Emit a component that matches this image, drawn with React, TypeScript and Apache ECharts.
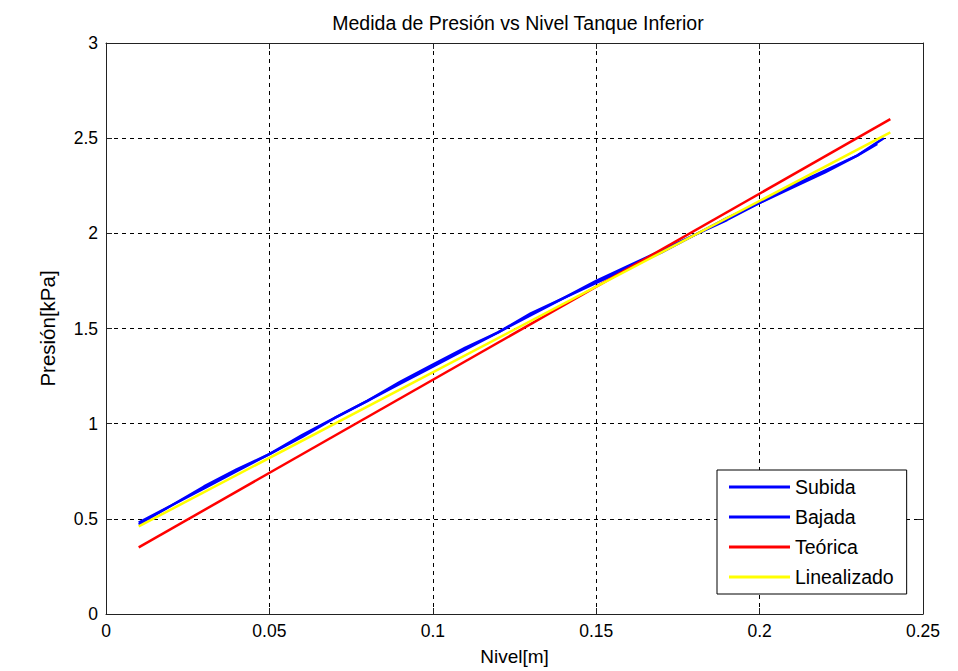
import React, { useEffect, useRef } from "react";
import * as echarts from "echarts";

const nivelSubida = [0.01, 0.02, 0.03, 0.04, 0.05, 0.06, 0.07, 0.08, 0.09, 0.1, 0.11, 0.12, 0.13, 0.14, 0.15, 0.16, 0.17, 0.18, 0.19, 0.2, 0.21, 0.22, 0.23, 0.238];
const presionSubida = [0.47, 0.57, 0.66, 0.75, 0.84, 0.93, 1.03, 1.12, 1.21, 1.3, 1.39, 1.48, 1.57, 1.66, 1.74, 1.82, 1.9, 1.99, 2.08, 2.16, 2.25, 2.33, 2.41, 2.5];
const nivelBajada = [0.01, 0.02, 0.03, 0.04, 0.05, 0.06, 0.07, 0.08, 0.09, 0.1, 0.11, 0.12, 0.13, 0.14, 0.15, 0.16, 0.17, 0.18, 0.19, 0.2, 0.21, 0.22, 0.23, 0.236];
const presionBajada = [0.48, 0.57, 0.67, 0.76, 0.84, 0.94, 1.03, 1.12, 1.22, 1.31, 1.4, 1.48, 1.58, 1.66, 1.75, 1.83, 1.91, 1.99, 2.07, 2.16, 2.24, 2.32, 2.41, 2.47];
const nivelTeorica = [0.01, 0.24];
const presionTeorica = [0.35, 2.6];
const nivelLineal = [0.01, 0.24];
const presionLineal = [0.46, 2.53];

const seriesNames = ["Subida", "Bajada", "Teórica", "Linealizado"];
const seriesColors = ["#0000ff", "#0000ff", "#ff0000", "#ffff00"];

const zip = (xs: number[], ys: number[]) => xs.map((x, i) => [x, ys[i]]);

export default function App() {
  const ref = useRef<HTMLDivElement>(null);
  useEffect(() => {
    if (!ref.current) return;
    const chart = echarts.init(ref.current, null, { renderer: "svg" });
    const font = "Liberation Sans, Arial, sans-serif";
    const dataSets = [
      zip(nivelSubida, presionSubida),
      zip(nivelBajada, presionBajada),
      zip(nivelTeorica, presionTeorica),
      zip(nivelLineal, presionLineal),
    ];
    const gridLine = { show: true, lineStyle: { color: "#000", type: [4, 4] as any, width: 1 } };
    const frame = { show: true, onZero: false, lineStyle: { color: "#222", width: 1 } };
    const ticks = { show: true, inside: true, length: 6, lineStyle: { color: "#222" } };
    chart.setOption({
      animation: false,
      backgroundColor: "#fff",
      title: {
        text: "Medida de Presión vs Nivel Tanque Inferior",
        left: 513,
        textAlign: "center",
        top: 8,
        textStyle: { fontFamily: font, fontSize: 19.5, fontWeight: "normal", color: "#000" },
      },
      grid: { left: 106, right: 35, top: 43, bottom: 56, containLabel: false },
      legend: {
        data: seriesNames,
        orient: "vertical",
        left: 717,
        top: 470,
        icon: "rect",
        itemWidth: 61,
        itemHeight: 3,
        itemGap: 10,
        padding: [7, 13, 7, 12],
        backgroundColor: "#fff",
        borderColor: "#000",
        borderWidth: 1,
        borderRadius: 0,
        textStyle: { fontFamily: font, fontSize: 19.5, color: "#000" },
        z: 10,
      },
      xAxis: [
        {
          type: "value",
          min: 0,
          max: 0.25,
          interval: 0.05,
          position: "bottom",
          name: "Nivel[m]",
          nameLocation: "middle",
          nameGap: 33,
          nameTextStyle: { fontFamily: font, fontSize: 19, color: "#000" },
          axisLine: frame,
          axisTick: ticks,
          axisLabel: { fontFamily: font, fontSize: 17.5, color: "#000", margin: 8 },
          splitLine: gridLine,
        },
        {
          type: "value",
          min: 0,
          max: 0.25,
          interval: 0.05,
          position: "top",
          axisLine: frame,
          axisTick: ticks,
          axisLabel: { show: false },
          splitLine: { show: false },
        },
      ],
      yAxis: [
        {
          type: "value",
          min: 0,
          max: 3,
          interval: 0.5,
          position: "left",
          name: "Presión[kPa]",
          nameLocation: "middle",
          nameGap: 48,
          nameRotate: 90,
          nameTextStyle: { fontFamily: font, fontSize: 20.5, color: "#000" },
          axisLine: frame,
          axisTick: ticks,
          axisLabel: { fontFamily: font, fontSize: 17.5, color: "#000", margin: 8 },
          splitLine: gridLine,
        },
        {
          type: "value",
          min: 0,
          max: 3,
          interval: 0.5,
          position: "right",
          axisLine: frame,
          axisTick: ticks,
          axisLabel: { show: false },
          splitLine: { show: false },
        },
      ],
      series: seriesNames.map((name, i) => ({
        name,
        type: "line",
        data: dataSets[i],
        xAxisIndex: 0,
        yAxisIndex: 0,
        showSymbol: false,
        symbol: "none",
        color: seriesColors[i],
        lineStyle: { color: seriesColors[i], width: 2.5 },
        z: 3 + i,
      })),
    });
    return () => chart.dispose();
  }, []);
  return <div ref={ref} style={{ width: 958, height: 671, position: "absolute", left: 0, top: 0 }} />;
}
